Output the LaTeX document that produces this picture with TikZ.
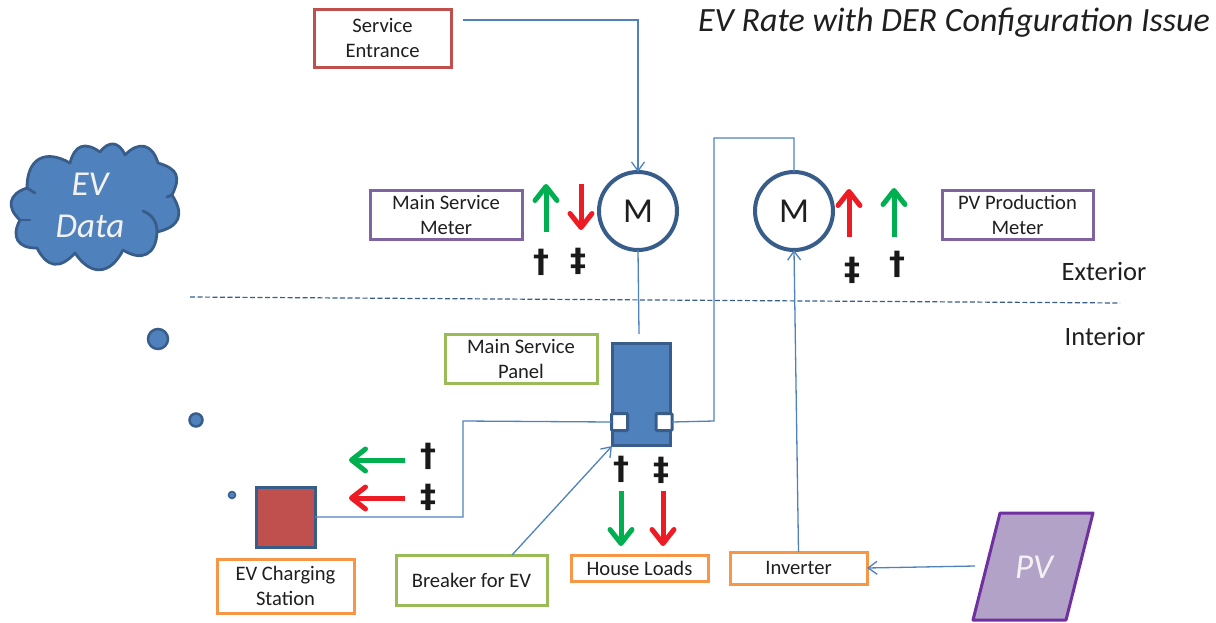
\documentclass[tikz,border=0pt]{standalone}
\usepackage{fontspec}
\setmainfont{Carlito}
\newfontfamily\signfont{DejaVu Sans}
\usetikzlibrary{arrows.meta}
\definecolor{bluefill}{HTML}{4F81BD}
\definecolor{blueedge}{HTML}{385D8A}
\definecolor{wire}{HTML}{4F81BD}
\definecolor{redbox}{HTML}{C0504D}
\definecolor{purplebox}{HTML}{8064A2}
\definecolor{greenbox}{HTML}{9BBB59}
\definecolor{orangebox}{HTML}{F79646}
\definecolor{fgreen}{HTML}{00B050}
\definecolor{fred}{HTML}{ED1C24}
\definecolor{pvfill}{HTML}{B3A2C7}
\definecolor{pvedge}{HTML}{7030A0}
\tikzset{
  x=1pt,y=-1pt,
  every node/.style={inner sep=0pt,outer sep=0pt,font=\fontsize{20.6}{25}\selectfont,align=center,text=black!88},
  lbox/.style n args={3}{draw=#1,line width=3pt,fill=white,minimum width=#2,minimum height=#3},
  meter/.style={circle,draw=blueedge,line width=4pt,fill=white,minimum size=78pt,font=\fontsize{35}{35}\selectfont},
  wireline/.style={draw=wire,line width=1.3pt},
  wirearrow/.style={wireline,-{Straight Barb[length=9pt,width=13pt]}},
  flow/.style={line width=5pt,-{Straight Barb[round,length=14pt,width=22pt,line width=5pt]}},
  mark sign/.style={font=\fontsize{32}{32}\selectfont\signfont\bfseries,text=black!90},
  blob/.style={circle,fill=bluefill,draw=blueedge,line width=2.5pt},
  side/.style={font=\fontsize{26.5}{26.5}\selectfont},
  whitetext/.style={font=\fontsize{35}{42}\selectfont\itshape,text=white!95!black},
  bump/.style={bend right=#1,looseness=1.5},
  cloudline/.style={draw=blueedge,line width=2.8pt,line cap=round}
}
\begin{document}
\begin{tikzpicture}
\useasboundingbox (0,0) rectangle (1216,622);
% title
\node[font=\fontsize{34}{38}\selectfont\itshape,anchor=east] (title) at (1210,23) {EV Rate with DER Configuration Issue};
% cloud
\path[fill=bluefill,cloudline,line join=round]
 (70,163) to[bump=60] (27,188)
 to[bump=60] (20,220)
 to[bump=60] (37,248)
 to[bump=55] (75,253)
 to[bump=60] (123,250)
 to[bump=60] (157,232)
 to[bump=55] (172,195)
 to[bump=50] (158,163)
 to[bump=60] (125,155)
 to[bump=60] (100,152)
 to[bump=55] (70,163)
 -- cycle;
\path[cloudline] (143,211) to[bend left=35] (157,232);
\path[cloudline] (20,220) -- (30,220);
\path[cloudline] (27,188) -- (35,193);
\path[cloudline] (167,197) -- (172,195);
\node[whitetext] (evdata) at (90,205) {EV\\Data};
% blobs
\node[blob,minimum size=20pt] (b1) at (158,339) {};
\node[blob,minimum size=13pt] (b2) at (196,420) {};
\node[blob,minimum size=7pt,line width=1.5pt] (b3) at (232,495) {};
% separator
\coordinate (sepa) at (190,297);
\coordinate (sepb) at (1120,303);
\draw[blueedge,line width=1.2pt,dash pattern=on 5pt off 2.5pt] (sepa) -- (sepb);
\node[side] (ext) at (1104,271) {Exterior};
\node[side] (int) at (1105,336) {Interior};
% boxes
\node[lbox={redbox}{137pt}{58pt}] (se) at (382.5,38) {Service\\Entrance};
\node[meter] (m1) at (638,211) {M};
\node[meter] (m2) at (794,211) {M};
\node[lbox={purplebox}{152pt}{49pt}] (msm) at (446,214.5) {Main Service\\Meter};
\node[lbox={purplebox}{151pt}{49pt}] (pvm) at (1017.5,214.5) {PV Production\\Meter};
\node[lbox={greenbox}{152pt}{49pt}] (msp) at (521,358.5) {Main Service\\Panel};
\node[lbox={orangebox}{137pt}{54pt}] (evc) at (285.5,586) {EV Charging\\Station};
\node[lbox={greenbox}{151pt}{50pt}] (bfe) at (471.5,580) {Breaker for EV};
\node[lbox={orangebox}{137pt}{26pt}] (hl) at (639.5,568) {House Loads};
\node[lbox={orangebox}{137pt}{32pt}] (inv) at (798.5,568) {Inverter};
% panel
\node[draw=blueedge,fill=bluefill,line width=3pt,minimum width=58pt,minimum height=102pt] (panel) at (641,394) {};
\node[draw=blueedge,fill=white,line width=3pt,rounded corners=1pt,minimum width=16pt,minimum height=17pt] (brk1) at (619.5,422) {};
\node[draw=blueedge,fill=white,line width=3pt,rounded corners=1pt,minimum width=16pt,minimum height=17pt] (brk2) at (664,422) {};
% EV station
\node[draw=blueedge,fill=redbox,line width=3pt,minimum width=59pt,minimum height=60pt] (ev) at (285.5,517) {};
% PV
\path[fill=pvfill,draw=pvedge,line width=3pt,line join=round] (1000,513) -- (1093,513) -- (1066,620) -- (973,620) -- cycle;
\node[font=\fontsize{35}{35}\selectfont\itshape,text=white!95!black] (pvt) at (1034,567) {PV};
\coordinate (pvw) at (975,566);
% connectors
\coordinate (sestart) at (463,20);
\coordinate (ptop) at (639,334);
\coordinate (c1) at (714,138);
\coordinate (c2) at (714,421);
\coordinate (c3) at (463,517);
\coordinate (c4) at (463,421);
\coordinate (bfs) at (512,555);
\coordinate (pnl) at (612,446);
\draw[wirearrow] (sestart) -| (m1.north);
\draw[wireline] (m1.south) -- (ptop);
\draw[wireline] (m2.north) |- (c1) -- (c2) -- (brk2.east);
\draw[wirearrow] (inv.north) -- (m2.south);
\draw[wirearrow] (pvw) -- (inv.east);
\draw[wireline] (ev.east) -- (c3) -- (c4) -- (brk1.west);
\draw[wirearrow] (bfs) -- (pnl);
% flows
\draw[flow,fgreen] (546,232) coordinate (f1) -- (546,184) coordinate (f1e);
\draw[flow,fred] (581,184) coordinate (f2) -- (581,230) coordinate (f2e);
\draw[flow,fred] (849,237) coordinate (f3) -- (849,189) coordinate (f3e);
\draw[flow,fgreen] (894,237) coordinate (f4) -- (894,188) coordinate (f4e);
\draw[flow,fgreen] (405,460) coordinate (f5) -- (349,460) coordinate (f5e);
\draw[flow,fred] (405,498) coordinate (f6) -- (349,498) coordinate (f6e);
\draw[flow,fgreen] (621,491) coordinate (f7) -- (621,546) coordinate (f7e);
\draw[flow,fred] (663,491) coordinate (f8) -- (663,546) coordinate (f8e);
% signs
\node[mark sign] (d1) at (541,262) {†};
\node[mark sign] (d2) at (578,261) {‡};
\node[mark sign] (d3) at (852,270) {‡};
\node[mark sign] (d4) at (897,264) {†};
\node[mark sign] (d5) at (428,456) {†};
\node[mark sign] (d6) at (428,497) {‡};
\node[mark sign] (d7) at (621,469) {†};
\node[mark sign] (d8) at (661,470) {‡};
\end{tikzpicture}
\end{document}
